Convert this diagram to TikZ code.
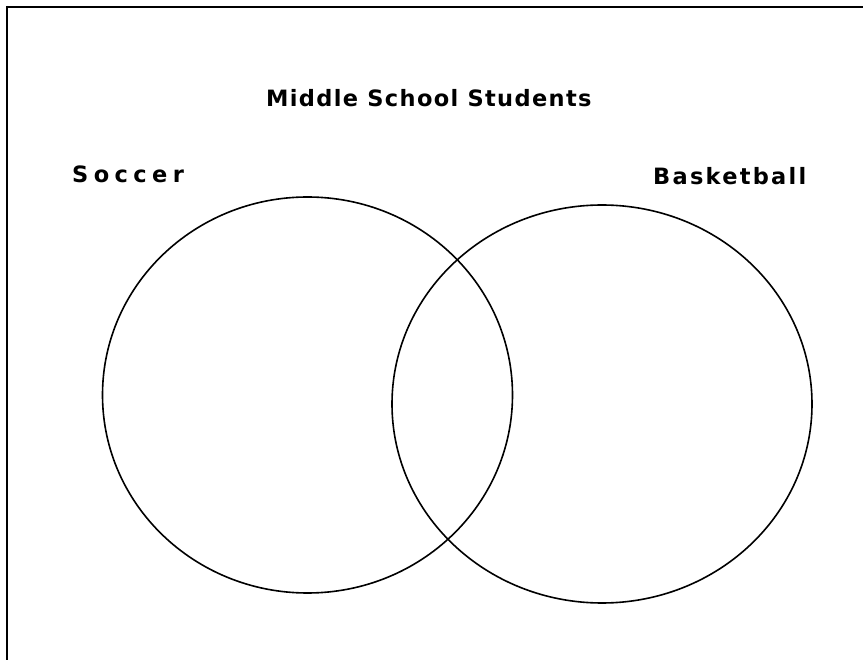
\documentclass[tikz,border=0pt]{standalone}
\usepackage{fontspec}
\setmainfont{DejaVu Sans}
\newfontfamily\titlefont[LetterSpace=6]{DejaVu Sans}
\newfontfamily\soccerfont[LetterSpace=24]{DejaVu Sans}
\newfontfamily\basketfont[LetterSpace=10]{DejaVu Sans}
\begin{document}
\begin{tikzpicture}[x=1pt,y=-1pt,
  setname/.style={draw=black, line width=1.6pt},
  lbl/.style={anchor=base west, inner sep=0pt}]
\useasboundingbox (0,0) rectangle (863,660);
% frame
\draw[line width=2.5pt] (7,7) -- (863,7);
\draw[line width=2pt] (7,6) -- (7,660);
% circles
\coordinate (soccerset) at (307.5,395);
\coordinate (basketset) at (602,404);
\draw[setname] (soccerset) ellipse [x radius=205, y radius=198];
\draw[setname] (basketset) ellipse [x radius=210, y radius=199];
% labels
\node[lbl, font=\titlefont\bfseries\fontsize{22.5}{23}\selectfont] (title) at (266,107) {Middle School Students};
\node[lbl, font=\soccerfont\bfseries\fontsize{22.5}{23}\selectfont] (soccer) at (72,183) {Soccer};
\node[lbl, font=\basketfont\bfseries\fontsize{22.5}{23}\selectfont] (basket) at (653,185) {Basketball};
\end{tikzpicture}
\end{document}
